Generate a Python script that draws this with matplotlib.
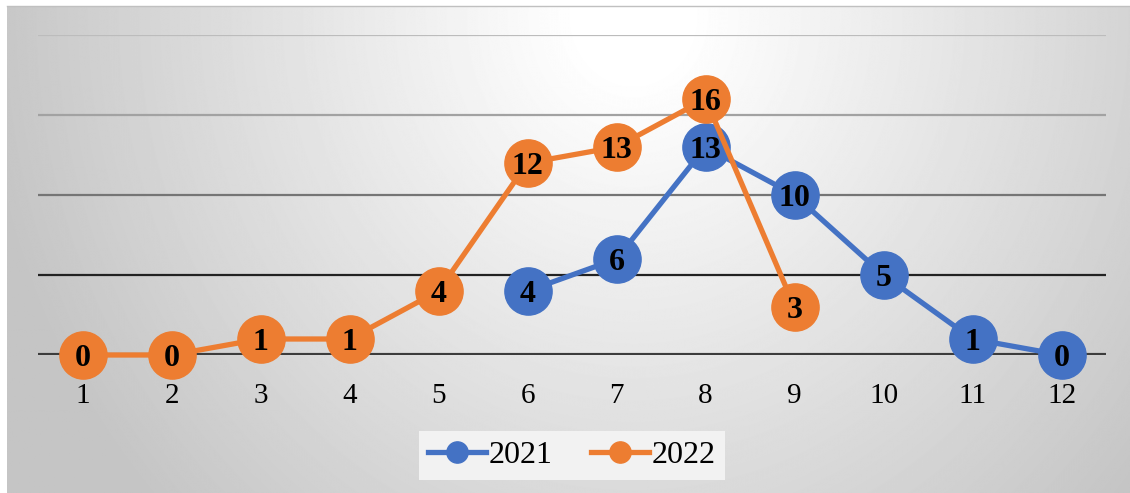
import numpy as np
import matplotlib.pyplot as plt

plt.rcParams['font.family'] = ['Liberation Serif', 'DejaVu Serif']

# data
months = list(range(1, 13))
x_2021 = [6, 7, 8, 9, 10, 11, 12]
y_2021 = [4, 6, 13, 10, 5, 1, 0]
x_2022 = [1, 2, 3, 4, 5, 6, 7, 8, 9]
y_2022 = [0, 0, 1, 1, 4, 12, 13, 16, 3]

grid_levels = [5, 10, 15, 20]
grid_colors = ['#222222', '#757575', '#a2a2a2', '#bcbcbc']

blue = '#4472C4'
orange = '#ED7D31'

W, H = 1130, 493
fig = plt.figure(figsize=(W / 100, H / 100), dpi=100)
fig.patch.set_facecolor('white')

# radial grey background, as in the office-style chart
bg = fig.add_axes([7 / W, 0, 1 - 7 / W, 1 - 6 / H], zorder=-10)
yy, xx = np.mgrid[0:H, 0:W]
d = np.hypot((xx - 630) * 1.1, yy - 10)
shade = 1.0 - np.clip((d - 60) / 660, 0, 1) * (1 - 197 / 255)
bg.imshow(shade, cmap='gray', vmin=0, vmax=1, aspect='auto',
          extent=[0, 1, 0, 1], interpolation='bilinear')
bg.set_axis_off()
# thin top border line
fig.add_artist(plt.Line2D([7 / W, 1], [1 - 6 / H, 1 - 6 / H],
                          color='#c0c0c0', lw=1))

ax = fig.add_axes([38 / W, (H - 355) / H, (1106 - 38) / W, 320 / H])
ax.set_facecolor('none')
ax.set_xlim(0.5, 12.5)
ax.set_ylim(0, 20)

for lev, c in zip(grid_levels, grid_colors):
    ax.axhline(lev, color=c, lw=1.6, zorder=1)
ax.axhline(0, color='#3c3c3c', lw=3.0, zorder=1)

for s in ax.spines.values():
    s.set_visible(False)
ax.set_yticks([])
ax.set_xticks(months)
ax.set_xticklabels([str(m) for m in months])
ax.tick_params(axis='x', length=0, pad=20, labelsize=21)

ax.plot(x_2021, y_2021, color=blue, lw=3.8, marker='o', ms=34,
        label='2021', zorder=3, clip_on=False)
ax.plot(x_2022, y_2022, color=orange, lw=3.8, marker='o', ms=34,
        label='2022', zorder=4, clip_on=False)

for x, y in zip(x_2021, y_2021):
    ax.text(x, y, str(y), ha='center', va='center_baseline', fontsize=23,
            fontweight='bold', zorder=6)
for x, y in zip(x_2022, y_2022):
    ax.text(x, y, str(y), ha='center', va='center_baseline', fontsize=23,
            fontweight='bold', zorder=6)

leg = fig.legend(loc='lower center', bbox_to_anchor=(572 / W, 13 / H),
                 ncol=2, fontsize=23, frameon=True, fancybox=False,
                 facecolor='#f2f2f2', edgecolor='none', framealpha=1,
                 markerscale=0.45, handlelength=1.8, handletextpad=0.1,
                 columnspacing=1.2, borderpad=0.3, borderaxespad=0)

fig.savefig('out.png', dpi=100)
